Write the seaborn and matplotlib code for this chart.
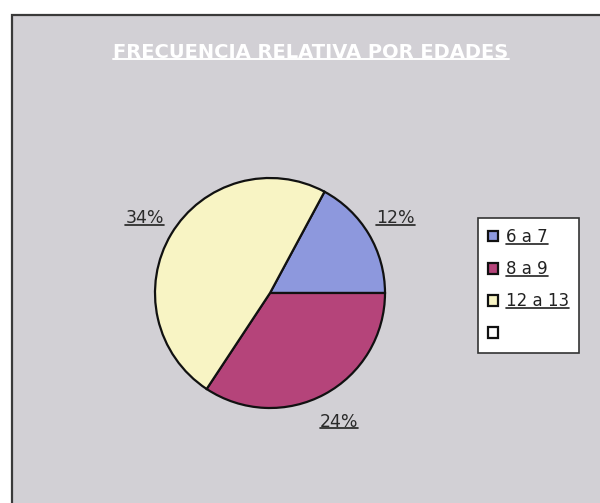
import matplotlib
matplotlib.use('Agg')
import matplotlib.pyplot as plt
from matplotlib.patches import Patch, Rectangle
from matplotlib.lines import Line2D
import seaborn as sns

# data
age_groups = ['6 a 7', '8 a 9', '12 a 13']
percentages = [12, 24, 34]
legend_labels = ['6 a 7', '8 a 9', '12 a 13', '']
slice_colors = ['#8d98dd', '#b5447a', '#f8f4c4']
title = 'FRECUENCIA RELATIVA POR EDADES'

sns.set_theme(style='white')
plt.rcParams['font.family'] = ['DejaVu Sans']


def underline(fig, text_obj, color, lw=1.2):
    """Draw a line under a text object, using its rendered extent."""
    if not text_obj.get_text():
        return
    renderer = fig.canvas.get_renderer()
    bbox = text_obj.get_window_extent(renderer).transformed(fig.transFigure.inverted())
    y = bbox.y0 + 2.5 / fig.bbox.height
    fig.lines.append(Line2D([bbox.x0, bbox.x1], [y, y], transform=fig.transFigure,
                            color=color, linewidth=lw, zorder=10))


fig = plt.figure(figsize=(6.0, 5.03), dpi=100)
fig.patch.set_facecolor('white')

# grey chart area with dark frame
frame = Rectangle((12 / 600, -0.05), 1.0, 1.05 - 15 / 503,
                  transform=fig.transFigure, facecolor='#d2d0d5',
                  edgecolor='#3a3a3a', linewidth=1.6, zorder=-1)
fig.patches.append(frame)

title_text = fig.text(311 / 600, 1 - 52 / 503, title, ha='center', va='center',
                      color='white', fontsize=14, fontweight='bold')

ax = fig.add_axes([155 / 600, 1 - 408 / 503, 230 / 600, 230 / 503])
start = 360 * percentages[0] / sum(percentages)
wedges, texts = ax.pie(
    percentages,
    labels=[f'{p}%' for p in percentages],
    colors=slice_colors,
    startangle=start,
    counterclock=False,
    labeldistance=1.27,
    wedgeprops={'edgecolor': '#111111', 'linewidth': 1.6},
    textprops={'fontsize': 12.5, 'color': '#2a2a2a'}
)
for t in texts:
    t.set_ha('center')
    t.set_va('center')
ax.set_xlim(-1, 1)
ax.set_ylim(-1, 1)
ax.set_aspect('equal')
ax.axis('off')

handles = [Patch(facecolor=c, edgecolor='#111111', linewidth=1.6)
           for c in slice_colors + ['white']]
leg = fig.legend(handles, legend_labels,
                 loc='upper left', bbox_to_anchor=(478 / 600, 1 - 218 / 503),
                 frameon=True, fancybox=False, fontsize=12,
                 handlelength=0.6, handleheight=0.6, handletextpad=0.5,
                 labelspacing=0.85, borderpad=0.6, borderaxespad=0)
leg.get_frame().set_facecolor('white')
leg.get_frame().set_edgecolor('#333333')
leg.get_frame().set_linewidth(1.2)
leg.get_frame().set_alpha(1)
for t in leg.get_texts():
    t.set_color('#222222')

fig.canvas.draw()
underline(fig, title_text, 'white', lw=1.4)
for t in texts:
    underline(fig, t, '#222222')
for t in leg.get_texts():
    underline(fig, t, '#222222')

fig.savefig('out.png', dpi=100, facecolor=fig.get_facecolor())
